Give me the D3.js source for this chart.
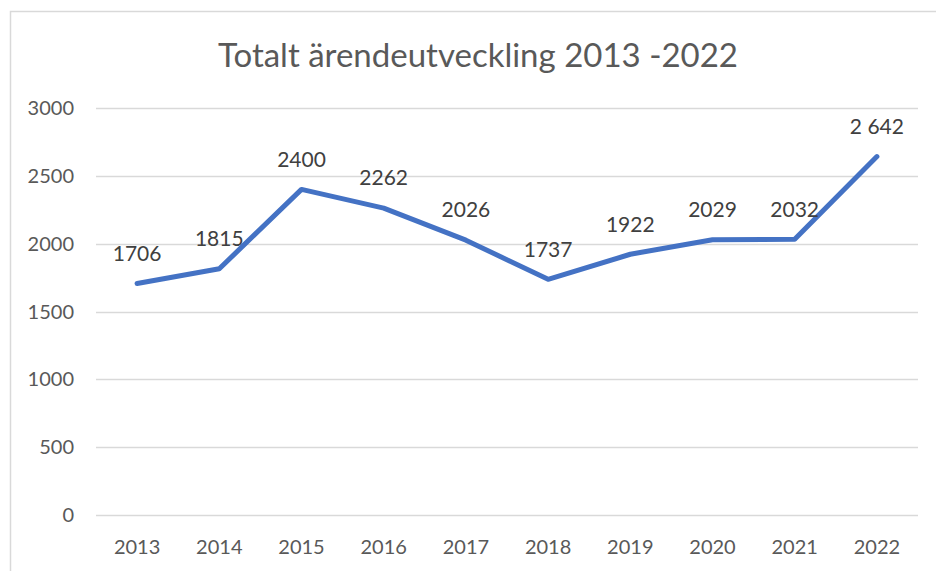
<!DOCTYPE html>
<html>
<head>
<meta charset="utf-8">
<script src="https://cdn.jsdelivr.net/npm/d3@7.9.0/dist/d3.min.js"></script>
<style>
  html, body { margin: 0; padding: 0; background: #fff; }
  svg { display: block; font-family: Lato, 'Open Sans', sans-serif; }
</style>
</head>
<body>
<svg id="chart" width="936" height="571"></svg>
<script>
const years = ['2013', '2014', '2015', '2016', '2017', '2018', '2019', '2020', '2021', '2022'];
const cases = [1706, 1815, 2400, 2262, 2026, 1737, 1922, 2029, 2032, 2642];
const caseLabels = ['1706', '1815', '2400', '2262', '2026', '1737', '1922', '2029', '2032', '2 642'];
const yTicks = [0, 500, 1000, 1500, 2000, 2500, 3000];

const svg = d3.select('#chart');
const margin = { top: 108, right: 18, bottom: 56, left: 96 };
const width = 936, height = 571;

// chart area border (runs off the picture on the right and bottom)
svg.append('rect')
  .attr('x', 10.5).attr('y', 11.5)
  .attr('width', 960).attr('height', 600)
  .attr('fill', 'none')
  .attr('stroke', '#d9d9d9')
  .attr('stroke-width', 1.5);

const x = d3.scaleBand()
  .domain(years)
  .range([margin.left, width - margin.right]);

const y = d3.scaleLinear()
  .domain([0, 3000])
  .range([height - margin.bottom, margin.top]);

// gridlines
svg.append('g')
  .selectAll('line')
  .data(yTicks)
  .join('line')
  .attr('x1', margin.left)
  .attr('x2', width - margin.right)
  .attr('y1', (d) => Math.round(y(d)) + 0.5)
  .attr('y2', (d) => Math.round(y(d)) + 0.5)
  .attr('stroke', '#d9d9d9')
  .attr('stroke-width', 1.5);

// y tick labels
svg.append('g')
  .selectAll('text')
  .data(yTicks)
  .join('text')
  .attr('x', 74)
  .attr('y', (d) => y(d))
  .attr('dy', '0.35em')
  .attr('text-anchor', 'end')
  .attr('fill', '#595959')
  .attr('font-size', 20)
  .text((d) => d);

// x tick labels
svg.append('g')
  .selectAll('text')
  .data(years)
  .join('text')
  .attr('x', (d) => x(d) + x.bandwidth() / 2)
  .attr('y', height - margin.bottom + 32)
  .attr('dy', '0.35em')
  .attr('text-anchor', 'middle')
  .attr('fill', '#595959')
  .attr('font-size', 20)
  .text((d) => d);

// line
const line = d3.line()
  .x((d, i) => x(years[i]) + x.bandwidth() / 2)
  .y((d) => y(d));

svg.append('path')
  .datum(cases)
  .attr('d', line)
  .attr('fill', 'none')
  .attr('stroke', '#4472c4')
  .attr('stroke-width', 5)
  .attr('stroke-linejoin', 'round')
  .attr('stroke-linecap', 'round');

// data labels
svg.append('g')
  .selectAll('text')
  .data(cases)
  .join('text')
  .attr('x', (d, i) => x(years[i]) + x.bandwidth() / 2)
  .attr('y', (d) => y(d) - 30)
  .attr('dy', '0.35em')
  .attr('text-anchor', 'middle')
  .attr('fill', '#404040')
  .attr('font-size', 21)
  .text((d, i) => caseLabels[i]);

// title
svg.append('text')
  .attr('x', 478)
  .attr('y', 55)
  .attr('dy', '0.35em')
  .attr('text-anchor', 'middle')
  .attr('fill', '#595959')
  .attr('font-size', 33)
  .text('Totalt ärendeutveckling 2013 -2022');
</script>
</body>
</html>
